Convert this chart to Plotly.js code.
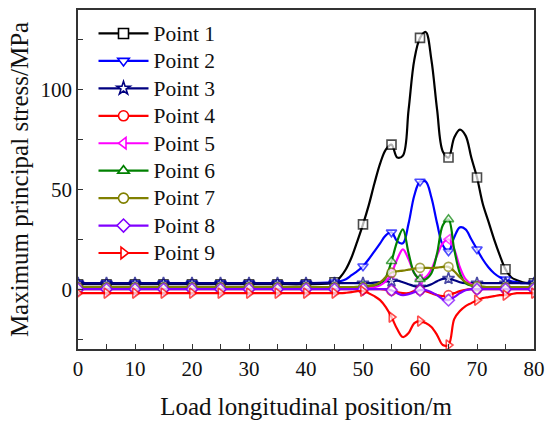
<!DOCTYPE html>
<html>
<head>
<meta charset="utf-8">
<script src="https://cdn.plot.ly/plotly-3.0.1.min.js"></script>
<style>html,body{margin:0;padding:0;background:#fff;}#chart{width:550px;height:427px;}</style>
</head>
<body>
<div id="chart"></div>
<script>
// Load longitudinal position (m)
const positions = [0,5,10,15,20,25,30,35,40,
  45,46,47,48,49,50,51,52,53,54,55,56,57,58,59,60,61,62,63,64,65,66,67,68,69,70,71,72,73,74,75,76,77,78,79,80];

const seriesNames = ["Point 1","Point 2","Point 3","Point 4","Point 5","Point 6","Point 7","Point 8","Point 9"];

const point1 = [2.5,2.5,2.5,2.5,2.5,2.5,2.5,2.5,2.5,
  3.5,6,10,16,24, 32.5,42,53,63,70, 72.5,66,67,90,115, 126,129,115,90,69, 66,76,80,77,66, 56,43,34,25,17, 10,6,4.5,3.5,3, 3];
const point2 = [3,3,3,3,3,3,3,3,3,
  3.5,4,5,7,9, 11.5,15,19,23,27, 28.5,24,23,33,47, 54,54,46,33,22, 19,26,31,30,25, 20,15,11,8,6, 5,4,3.5,3,3, 3];
const point3 = [3,3,3,3,3,3,3,3,3,
  3,3,3,3,3, 3,3,3.3,3.6,3.9, 4,4.3,3.5,2.5,1.5, 1,1.5,2.5,4,5.2, 5.3,4.5,3.5,3,3, 3,3,3,3,3, 3,3,3,3,3, 3];
const point4 = [0,0,0,0,0,0,0,0,0,
  0,0,0,0,0, 0,0,0,0,-0.3, -0.8,-1.5,-2,-2,-1, -0.5,-1,-2,-3,-3.5, -3,-2,-1,-0.3,0, 0,0,0,0,0, 0,0,0,0,0, 0];
const point5 = [0.5,0.5,0.5,0.5,0.5,0.5,0.5,0.5,0.5,
  0.5,0.5,0.5,0.5,0.5, 0.5,0.5,1,2,4, 8,15,20,15,8, 5,6,10,17,23, 25,20,11,5,2.5, 1.5,1,0.8,0.5,0.5, 0.5,0.5,0.5,0.5,0.5, 0.5];
const point6 = [1,1,1,1,1,1,1,1,1,
  1,1,1,1,1.2, 1.5,1.7,2,3,6, 14,24,30,18,8, 5,5,8,18,32, 35,20,8,3,1.8, 1.5,1.2,1,1,1, 1,1,1,1,1, 1];
const point7 = [1,1,1,1,1,1,1,1,1,
  1,1,1,1,1, 1,1.5,2,3.5,6, 8.3,9,9.3,9.8,10.3, 10.7,10.7,10.6,10.8,11.2, 11.2,9,6,3.5,2, 1.5,1.2,1,1,1, 1,1,1,1,1, 1];
const point8 = [0,0,0,0,0,0,0,0,0,
  0,0,0,0,0, 0,0,0,0,0, -0.5,-2,-3,-2.5,-1.5, -0.5,-0.5,-1.5,-3,-5, -5.5,-4,-2,-0.5,0, 0,0,0,0,0, 0,0,0,0,0, 0];
const point9 = [-2,-2,-2,-2,-2,-2,-2,-2,-2,
  -2,-2,-1.8,-1.5,-1, -1,-2,-3.5,-5.5,-9, -14,-20,-24,-22,-17, -16,-17,-19,-23,-28, -28,-15,-11,-8.5,-7, -5.5,-4.5,-4,-3.5,-3, -3,-2.5,-2,-2,-2, -2];

const seriesValues = [point1,point2,point3,point4,point5,point6,point7,point8,point9];
const colors = ["#000000","#0000ff","#000080","#ff0000","#ff00ff","#008000","#808000","#8000ff","#ff0000"];
const symbols = ["square","triangle-down","star","circle","triangle-left","triangle-up","circle","diamond","triangle-right"];

const markerSizes = positions.map(p => (p % 5 === 0 ? 9 : 0));

const plotTraces = seriesNames.map((name, i) => ({
  type: "scatter",
  mode: "lines+markers",
  name: name,
  legendgroup: name,
  showlegend: false,
  x: positions,
  y: seriesValues[i],
  line: {color: colors[i], width: 2.2, shape: "spline", smoothing: 1},
  marker: {symbol: symbols[i], size: markerSizes, color: "#ffffff",
           line: {color: colors[i], width: 1.6}}
}));

// legend entries (carry no visible data)
const legendTraces = seriesNames.map((name, i) => ({
  type: "scatter",
  mode: "lines+markers",
  name: '<span style="font-size:21.5px">' + name + '</span>',
  legendgroup: name,
  showlegend: true,
  x: [null], y: [null],
  line: {color: colors[i], width: 2.2},
  marker: {symbol: symbols[i], size: 10, color: "#ffffff",
           line: {color: colors[i], width: 1.6}}
}));

const serif = "Liberation Serif";

const layout = {
  width: 550, height: 427,
  margin: {l: 78, r: 16, t: 10, b: 78},
  paper_bgcolor: "#ffffff", plot_bgcolor: "#ffffff",
  font: {family: serif, size: 21, color: "#111111"},
  showlegend: true,
  legend: {x: 0.034, y: 0.986, xanchor: "left", yanchor: "top",
           bgcolor: "rgba(0,0,0,0)", font: {family: serif, size: 18.8, color: "#111111"},
           itemwidth: 50, tracegroupgap: 0},
  xaxis: {
    range: [0, 80], dtick: 10, tick0: 0,
    showgrid: false, zeroline: false,
    showline: true, linecolor: "#333333", linewidth: 1.5, mirror: true,
    ticks: "inside", ticklen: 5, tickwidth: 1.2, tickcolor: "#333333",
    minor: {dtick: 5, ticks: "inside", ticklen: 5, tickwidth: 1.2, tickcolor: "#333333"},
    tickfont: {family: serif, size: 21},
    title: {text: "Load longitudinal position/m", font: {family: serif, size: 25}, standoff: 18}
  },
  yaxis: {
    range: [-30, 140], dtick: 50, tick0: 0,
    showgrid: false, zeroline: false,
    showline: true, linecolor: "#333333", linewidth: 1.5, mirror: true,
    ticks: "inside", ticklen: 5, tickwidth: 1.2, tickcolor: "#333333",
    minor: {dtick: 25, ticks: "inside", ticklen: 5, tickwidth: 1.2, tickcolor: "#333333"},
    tickfont: {family: serif, size: 21},
    title: {text: "Maximum principal stress/MPa", font: {family: serif, size: 25}, standoff: 5}
  }
};

Plotly.newPlot("chart", plotTraces.concat(legendTraces), layout, {displayModeBar: false, responsive: false});
</script>
</body>
</html>
